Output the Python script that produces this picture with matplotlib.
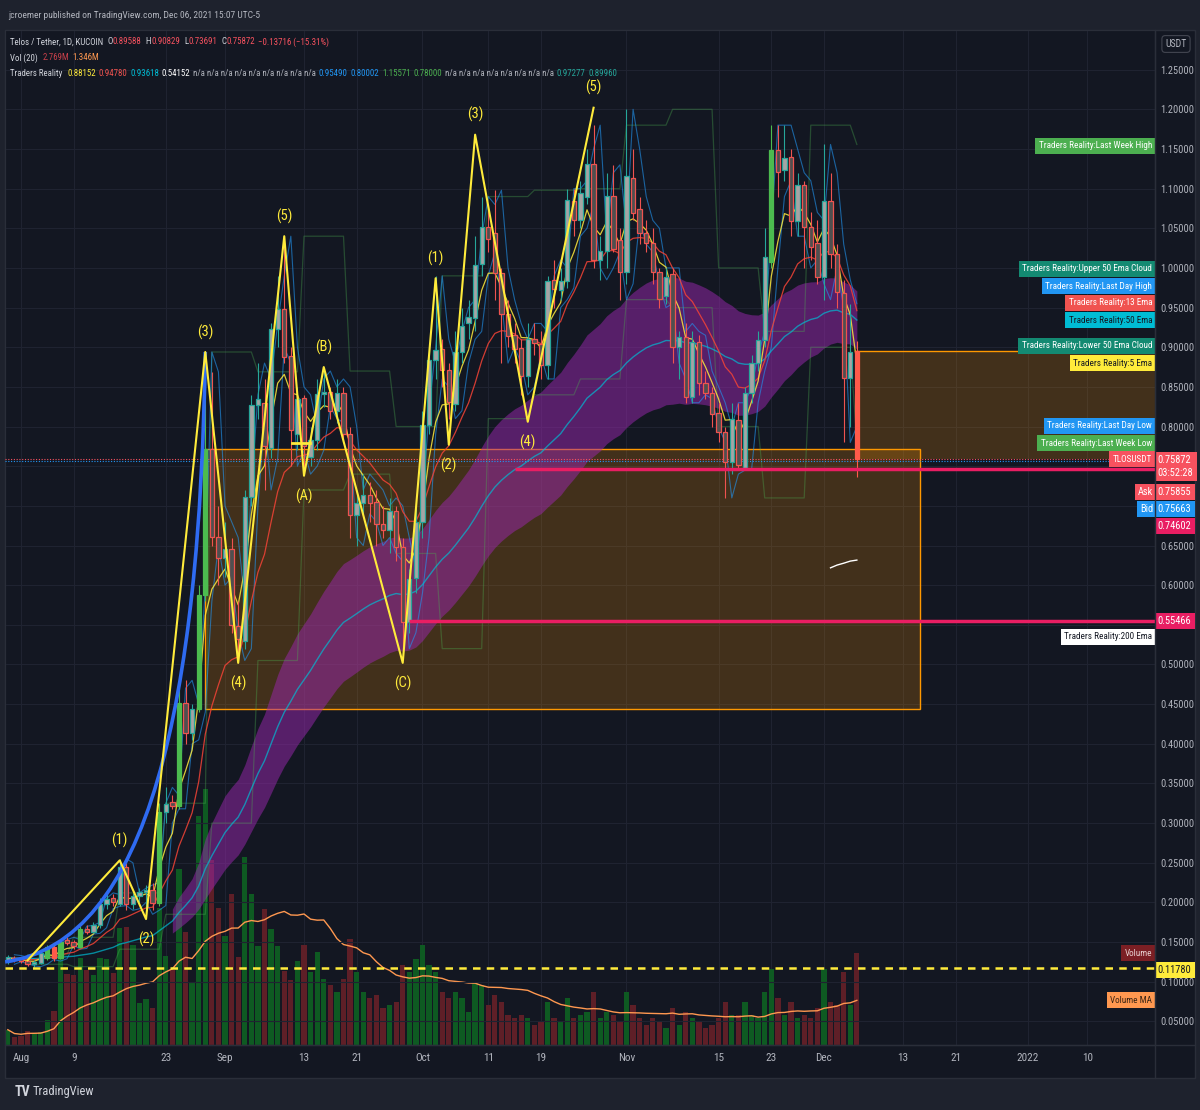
import numpy as np
import pandas as pd
import matplotlib
matplotlib.use("Agg")
import matplotlib.pyplot as plt
import matplotlib.transforms as mtransforms
from matplotlib.patches import Rectangle, PathPatch
from matplotlib.path import Path
from matplotlib.lines import Line2D
import logging
logging.getLogger("matplotlib.font_manager").setLevel(logging.ERROR)

FONT = ["Roboto Condensed", "Open Sans Condensed", "Liberation Sans Narrow",
        "Liberation Sans", "DejaVu Sans"]
plt.rcParams["font.family"] = FONT

# ---- daily TLOS/USDT (KuCoin), Jul 30 - Dec 06 2021
dates = pd.date_range("2021-07-30", "2021-12-06", freq="D")

opens = [0.128, 0.130,
         # Aug
         0.127, 0.126, 0.122, 0.124, 0.130, 0.144, 0.130, 0.152, 0.150, 0.144,
         0.167, 0.163, 0.171, 0.198, 0.205, 0.198, 0.245, 0.198, 0.208, 0.213,
         0.216, 0.199, 0.314, 0.326, 0.322, 0.451, 0.414, 0.444, 0.587, 0.772, 0.661,
         # Sep
         0.634, 0.645, 0.549, 0.529, 0.711, 0.827, 0.830, 0.773, 0.923, 0.948,
         0.889, 0.791, 0.836, 0.762, 0.783, 0.841, 0.843, 0.820, 0.842, 0.790,
         0.689, 0.703, 0.714, 0.705, 0.677, 0.670, 0.694, 0.648, 0.554, 0.609,
         # Oct
         0.680, 0.802, 0.884, 0.898, 0.871, 0.829, 0.894, 0.930, 0.937, 1.005,
         1.052, 1.044, 0.994, 0.942, 0.916, 0.899, 0.864, 0.910, 0.904, 0.878,
         0.985, 0.972, 0.984, 1.084, 1.060, 1.090, 1.131, 1.010, 1.021, 1.091, 1.035,
         # Nov
         0.995, 1.114, 1.074, 1.044, 1.031, 0.995, 0.965, 0.992, 0.900, 0.913,
         0.837, 0.907, 0.855, 0.842, 0.817, 0.793, 0.755, 0.808, 0.748, 0.842,
         0.880, 0.909, 1.008, 1.149, 1.124, 1.140, 1.059, 1.105, 1.051, 1.031,
         # Dec
         0.988, 1.084, 1.018, 0.968, 0.861, 0.89588]

highs = [0.134, 0.133,
         0.131, 0.129, 0.127, 0.138, 0.146, 0.148, 0.153, 0.156, 0.153, 0.170,
         0.171, 0.175, 0.205, 0.212, 0.210, 0.255, 0.250, 0.212, 0.218, 0.222,
         0.225, 0.325, 0.345, 0.335, 0.470, 0.480, 0.450, 0.600, 0.894, 0.869, 0.700,
         0.680, 0.660, 0.580, 0.720, 0.840, 0.880, 0.860, 0.930, 0.990, 1.040,
         0.900, 0.850, 0.840, 0.800, 0.860, 0.870, 0.850, 0.860, 0.850, 0.800,
         0.720, 0.740, 0.730, 0.720, 0.700, 0.710, 0.700, 0.660, 0.620, 0.700,
         0.820, 0.900, 0.990, 0.910, 0.880, 0.920, 0.950, 0.960, 1.040, 1.090,
         1.080, 1.098, 1.000, 0.960, 0.930, 0.910, 0.930, 0.930, 0.920, 0.990,
         1.010, 1.000, 1.100, 1.100, 1.110, 1.150, 1.180, 1.040, 1.120, 1.130, 1.050,
         1.200, 1.150, 1.090, 1.060, 1.050, 1.000, 1.000, 1.000, 0.920, 0.930,
         0.920, 0.915, 0.870, 0.850, 0.830, 0.800, 0.830, 0.830, 0.850, 0.890,
         0.920, 1.050, 1.180, 1.180, 1.180, 1.150, 1.120, 1.110, 1.070, 1.060,
         1.15571, 1.120, 1.030, 0.985, 0.9549, 0.90829]

lows = [0.122, 0.125,
        0.123, 0.120, 0.119, 0.122, 0.128, 0.126, 0.129, 0.146, 0.141, 0.142,
        0.160, 0.161, 0.168, 0.192, 0.195, 0.196, 0.190, 0.192, 0.200, 0.185,
        0.190, 0.196, 0.300, 0.318, 0.318, 0.400, 0.405, 0.440, 0.580, 0.650, 0.600,
        0.610, 0.540, 0.505, 0.520, 0.700, 0.810, 0.720, 0.760, 0.900, 0.880,
        0.750, 0.770, 0.740, 0.750, 0.770, 0.825, 0.810, 0.805, 0.780, 0.660,
        0.650, 0.690, 0.680, 0.650, 0.660, 0.640, 0.630, 0.520, 0.540, 0.590,
        0.660, 0.790, 0.860, 0.850, 0.810, 0.820, 0.880, 0.910, 0.920, 0.990,
        1.020, 0.960, 0.880, 0.900, 0.880, 0.840, 0.850, 0.890, 0.860, 0.860,
        0.950, 0.960, 0.975, 1.040, 1.050, 1.080, 1.000, 0.985, 1.000, 1.020, 0.960,
        0.980, 1.060, 1.030, 1.020, 0.980, 0.950, 0.955, 0.880, 0.860, 0.830,
        0.830, 0.840, 0.835, 0.800, 0.780, 0.710, 0.740, 0.745, 0.745, 0.830,
        0.870, 0.900, 1.000, 1.090, 1.110, 1.040, 1.040, 1.000, 1.010, 0.980,
        0.960, 1.000, 0.950, 0.780, 0.80002, 0.73691]

closes = [0.130, 0.127,
          0.126, 0.122, 0.125, 0.136, 0.144, 0.130, 0.150, 0.149, 0.145, 0.166,
          0.163, 0.171, 0.198, 0.204, 0.200, 0.245, 0.198, 0.208, 0.213, 0.216,
          0.199, 0.314, 0.324, 0.322, 0.451, 0.414, 0.444, 0.587, 0.772, 0.661, 0.634,
          0.645, 0.550, 0.532, 0.711, 0.827, 0.835, 0.776, 0.923, 0.948, 0.888,
          0.796, 0.835, 0.775, 0.783, 0.841, 0.843, 0.820, 0.842, 0.790, 0.689,
          0.703, 0.714, 0.703, 0.677, 0.670, 0.694, 0.648, 0.554, 0.608, 0.680,
          0.802, 0.884, 0.897, 0.871, 0.831, 0.894, 0.927, 0.938, 1.004, 1.051,
          1.036, 0.994, 0.942, 0.914, 0.898, 0.864, 0.911, 0.905, 0.878, 0.984,
          0.973, 0.984, 1.086, 1.060, 1.094, 1.131, 1.010, 1.021, 1.091, 1.024, 0.995,
          1.116, 1.069, 1.044, 1.031, 0.995, 0.961, 0.989, 0.900, 0.913, 0.837,
          0.907, 0.855, 0.842, 0.816, 0.793, 0.755, 0.810, 0.752, 0.842, 0.880,
          0.909, 1.014, 1.149, 1.121, 1.139, 1.059, 1.105, 1.051, 1.026, 0.988,
          1.084, 1.018, 0.970, 0.861, 0.894, 0.75872]

# volume in millions of TLOS
volumes = [0.46, 0.23,
           0.28, 0.43, 0.36, 0.39, 0.74, 1.03, 2.62, 2.14, 2.10, 2.62,
           2.26, 2.12, 2.62, 2.59, 2.17, 3.52, 3.54, 3.02, 1.26, 1.37,
           1.11, 4.11, 2.67, 2.27, 5.31, 3.40, 1.89, 6.90, 7.70, 5.57, 4.13,
           3.28, 4.55, 2.65, 5.65, 4.55, 2.97, 4.08, 3.50, 2.99, 2.24,
           1.97, 2.53, 3.00, 2.20, 2.80, 2.00, 1.80, 1.60, 2.00, 3.20,
           2.20, 1.60, 1.40, 1.50, 1.10, 1.20, 1.30, 2.40, 2.20, 2.60,
           3.00, 2.40, 2.20, 1.60, 1.40, 1.60, 1.40, 1.00, 1.90, 1.80,
           1.20, 1.50, 1.30, 0.90, 0.80, 0.90, 0.80, 0.60, 0.70, 1.30,
           0.80, 0.70, 1.40, 0.80, 0.90, 1.00, 1.60, 0.80, 1.00, 0.90, 0.70,
           1.60, 1.20, 0.80, 0.60, 0.80, 0.70, 0.50, 1.10, 0.60, 1.00,
           0.80, 0.70, 0.50, 0.60, 0.80, 1.30, 0.90, 0.90, 1.30, 0.90,
           0.80, 1.60, 2.30, 1.40, 0.90, 1.30, 0.80, 0.90, 0.80, 1.10,
           2.30, 1.30, 1.20, 2.20, 1.20, 2.769]

vector_up = ["2021-08-05", "2021-08-07", "2021-08-10", "2021-08-22", "2021-08-25",
             "2021-08-28", "2021-08-29", "2021-11-23"]
vector_down = ["2021-08-06", "2021-12-06"]

# Elliott wave drawing
wave_dates = ["2021-08-02", "2021-08-16", "2021-08-20", "2021-08-29", "2021-09-03",
              "2021-09-10", "2021-09-13", "2021-09-16", "2021-09-28", "2021-10-03",
              "2021-10-05", "2021-10-09", "2021-10-17", "2021-10-27"]
wave_prices = [0.127, 0.253, 0.179, 0.894, 0.502, 1.040, 0.738, 0.875, 0.502,
               0.987, 0.777, 1.168, 0.806, 1.202]
wave_labels = ["", "(1)", "(2)", "(3)", "(4)", "(5)", "(A)", "(B)", "(C)",
               "(1)", "(2)", "(3)", "(4)", "(5)"]

# other drawings
curve_dates = ["2021-07-29 14:00", "2021-08-20 14:00", "2021-08-28 05:00", "2021-08-29"]
curve_prices = [0.125, 0.150, 0.455, 0.894]
level_prices = [0.74602, 0.55466]
level_starts = ["2021-10-15", "2021-09-29"]
ask_price = 0.75855
bid_price = 0.75663
dashed_level = 0.11780
zone_end = "2021-12-15 14:00"
marker_dates = ["2021-09-11 06:00", "2021-09-13 22:00"]
marker_price = 0.779

tick_dates = ["2021-08-01", "2021-08-09", "2021-08-23", "2021-09-01", "2021-09-13",
              "2021-09-21", "2021-10-01", "2021-10-11", "2021-10-19", "2021-11-01",
              "2021-11-15", "2021-11-23", "2021-12-01", "2021-12-13", "2021-12-21",
              "2022-01-01", "2022-01-10"]
tick_labels = ["Aug", "9", "23", "Sep", "13", "21", "Oct", "11", "19", "Nov",
               "15", "23", "Dec", "13", "21", "2022", "10"]
price_ticks = np.arange(0.05, 1.2501, 0.05)
hidden_ticks = [0.55, 0.70, 0.75]   # covered by the price tags

# ---------------------------------------------------------------
BG = "#131722"
GRID = "#1f2331"
BORDER = "#2a2e39"
TXT = "#b2b5be"
RED = "#f7525f"

base = pd.Timestamp("2021-08-01")


def day(ts):
    return (pd.Timestamp(ts) - base) / pd.Timedelta(days=1)


t = np.array([day(d) for d in dates])
df = pd.DataFrame({"o": opens, "h": highs, "l": lows, "c": closes, "v": volumes},
                  index=dates)

ema5 = df.c.ewm(span=5, adjust=False).mean()
ema13 = df.c.ewm(span=13, adjust=False).mean()
ema50 = df.c.ewm(span=50, adjust=False).mean()
ema200 = df.c.ewm(span=200, adjust=False).mean()
cloud = df.c.rolling(100, min_periods=26).std() / 4
last_day_high = df.h.shift(1)
last_day_low = df.l.shift(1)
last_week_high = df.h.resample("W-SUN").max().shift(1).reindex(df.index, method="bfill")
last_week_low = df.l.resample("W-SUN").min().shift(1).reindex(df.index, method="bfill")
vol_ma = df.v.rolling(20, min_periods=1).mean()

W, H = 1200, 1110
fig = plt.figure(figsize=(12, 11.1), dpi=100, facecolor="#1e222d")


def fx(px):
    return px / W


def fy(py):
    return 1 - py / H


fig.add_artist(Rectangle((fx(5), fy(1078)), 1190 / W, 1048 / H, transform=fig.transFigure,
                         facecolor=BG, edgecolor=BORDER, lw=1, zorder=-10))

axv = fig.add_axes([fx(5), fy(1045), 1150 / W, 1015 / H])
ax = axv.twinx()
axv.set_facecolor(BG)

xmin, xmax = -2.43, 172.3
axv.set_xlim(xmin, xmax)
ax.set_ylim(0.0202, 1.300)
axv.set_ylim(0, 30.55)

for a in (ax, axv):
    for s in a.spines.values():
        s.set_color(BORDER)
axv.yaxis.set_visible(False)

# grid / ticks
axv.set_xticks([day(d) for d in tick_dates])
axv.set_xticklabels(tick_labels)
axv.tick_params(axis="x", length=0, pad=6, colors=TXT, labelsize=8)
axv.grid(axis="x", color=GRID, lw=0.8)
ax.set_yticks(price_ticks)
ax.set_yticklabels(["" if any(abs(v - h) < 1e-6 for h in hidden_ticks) else f"{v:.5f}"
                    for v in price_ticks])
ax.tick_params(axis="y", length=0, pad=4, colors=TXT, labelsize=7.5)
ax.grid(axis="y", color=GRID, lw=0.8)
ax.set_axisbelow(True)

# volume
up = (df.c >= df.o).values
vol_col = np.where(up, "#0e5a22", "#5e1f27")
axv.bar(t, df.v, width=0.8, color=vol_col, zorder=2)
axv.plot(t, vol_ma, color="#ff9850", lw=1, zorder=3)

# zones from vector candles
i28 = df.index.get_loc(pd.Timestamp("2021-08-28"))
i29 = df.index.get_loc(pd.Timestamp("2021-08-29"))
z_lo, z_hi = df.o.iloc[i28], df.c.iloc[i29]
ax.add_patch(Rectangle((t[i29], z_lo), day(zone_end) - t[i29], z_hi - z_lo,
                       facecolor="#ff9800", alpha=0.2, edgecolor="none", zorder=1))
ax.add_patch(Rectangle((t[i29], z_lo), day(zone_end) - t[i29], z_hi - z_lo,
                       facecolor="none", edgecolor="#ff9800", lw=1, zorder=1.2))
z2_lo, z2_hi = df.c.iloc[-1], df.o.iloc[-1]
ax.add_patch(Rectangle((t[-1] - 0.3, z2_lo), xmax - t[-1] + 1, z2_hi - z2_lo,
                       facecolor="#ff9800", alpha=0.2, edgecolor="none", zorder=1))
ax.plot([t[-1] - 0.3, xmax], [z2_hi, z2_hi], color="#ff9800", lw=1, zorder=1.2)

# ema cloud and lines
ax.fill_between(t, ema50 - cloud, ema50 + cloud, color="#9c27b0", alpha=0.5, lw=0, zorder=1.5)
ax.plot(t, last_week_high, color="#4caf50", alpha=0.35, lw=0.9, zorder=2)
ax.plot(t, last_week_low, color="#4caf50", alpha=0.35, lw=0.9, zorder=2)
ax.plot(t, last_day_high, color="#2196f3", alpha=0.6, lw=0.8, zorder=2)
ax.plot(t, last_day_low, color="#2196f3", alpha=0.6, lw=0.8, zorder=2)
ax.plot(t, ema50, color="#00bcd4", alpha=0.7, lw=1, zorder=2.2)
ax.plot(t, ema13, color="#f44336", alpha=0.85, lw=0.9, zorder=2.5)
ax.plot(t, ema5, color="#ffeb3b", alpha=0.85, lw=0.9, zorder=2.6)
ax.plot(t[-5:], ema200.values[-5:], color="white", lw=1, zorder=2.6)

# levels
for lv, st in zip(level_prices, level_starts):
    ax.plot([day(st), xmax], [lv, lv], color="#e91e63", lw=2.5, zorder=4.5,
            solid_capstyle="butt")
ax.axhline(closes[-1], color=RED, lw=0.8, ls=(0, (1, 1.5)), zorder=4)
ax.axhline(bid_price, color="#2196f3", lw=0.8, ls=(0, (1, 1.5)), zorder=4)
ax.axhline(dashed_level, color="#ffeb3b", lw=1.8, ls=(0, (3, 2.5)), zorder=4.5)
ax.plot([day(d) for d in marker_dates], [marker_price] * 2, color="#ffeb3b", lw=2, zorder=5)

# candles
fill = np.where(up, "#a5a5a5", "#4f4f4f").astype("<U7")
edge = np.where(up, "#26a69a", "#ef5350").astype("<U7")
for d in vector_up:
    i = df.index.get_loc(pd.Timestamp(d))
    fill[i] = edge[i] = "#4cbb4f"
for d in vector_down:
    i = df.index.get_loc(pd.Timestamp(d))
    fill[i] = edge[i] = "#ff5a4a"
body_lo = np.minimum(df.o, df.c)
body_h = np.maximum(np.abs(df.c - df.o), 0.003)
ax.vlines(t, df.l, df.h, colors=edge, lw=0.8, zorder=3.5)
ax.bar(t, body_h, bottom=body_lo, width=0.66, color=fill, edgecolor=edge, lw=0.9, zorder=4)

# parabolic curve drawing
verts = list(zip([day(d) for d in curve_dates], curve_prices))
curve = Path(verts, [Path.MOVETO, Path.CURVE4, Path.CURVE4, Path.CURVE4])
ax.add_patch(PathPatch(curve, facecolor="none", edgecolor="#2f6bf2", lw=2.6, zorder=5))

# elliott waves
wx = [day(d) for d in wave_dates]
ax.plot(wx, wave_prices, color="#ffeb3b", lw=1.5, zorder=5.5)
for i, lab in enumerate(wave_labels):
    if not lab:
        continue
    peak = wave_prices[i] > wave_prices[i - 1]
    ax.annotate(lab, (wx[i], wave_prices[i]), xytext=(0, 14.5 if peak else -14.5),
                textcoords="offset points", ha="center", va="center",
                color="#ffeb3b", fontsize=10.5, zorder=6)

# labels inside pane (right edge)
blend = mtransforms.blended_transform_factory(ax.transAxes, ax.transData)
tr_labels = [("Traders Reality:Last Week High", 1.154, "#4caf50", "white"),
             ("Traders Reality:Upper 50 Ema Cloud", 0.9987, "#138a72", "white"),
             ("Traders Reality:Last Day High", 0.977, "#2196f3", "white"),
             ("Traders Reality:13 Ema", 0.956, "#f05350", "white"),
             ("Traders Reality:50 Ema", 0.934, "#00bcd4", "#131722"),
             ("Traders Reality:Lower 50 Ema Cloud", 0.902, "#138a72", "white"),
             ("Traders Reality:5 Ema", 0.880, "#ffeb3b", "#131722"),
             ("Traders Reality:Last Day Low", 0.801, "#2196f3", "white"),
             ("Traders Reality:Last Week Low", 0.779, "#4caf50", "white"),
             ("TLOSUSDT", 0.7587, RED, "white"),
             ("Traders Reality:200 Ema", 0.535, "white", "#131722")]
for txt, y, bg, fg in tr_labels:
    ax.text(0.9975, y, txt, transform=blend, ha="right", va="center", fontsize=6.6,
            color=fg, zorder=8, bbox=dict(boxstyle="square,pad=0.38", fc=bg, ec="none"))

# price scale tags
axis_tags = [(f"{closes[-1]:.5f}\n03:52:28", 0.7587 - 0.009, RED, "white"),
             (f"{ask_price:.5f}", 0.7175, RED, "white"),
             (f"{bid_price:.5f}", 0.696, "#2196f3", "white"),
             (f"{level_prices[0]:.5f}", 0.6746, "#e91e63", "white"),
             (f"{level_prices[1]:.5f}", level_prices[1], "#e91e63", "white"),
             (f"{dashed_level:.5f}", dashed_level - 0.003, "#ffeb3b", "#131722")]
for txt, y, bg, fg in axis_tags:
    ax.text(1.0025, y, txt, transform=blend, ha="left", va="center", fontsize=7.5,
            color=fg, zorder=9, clip_on=False, linespacing=1.45,
            bbox=dict(boxstyle="square,pad=0.3", fc=bg, ec="none"))
ax.text(0.9985, 0.7175, "Ask", transform=blend, ha="right", va="center", fontsize=7.5,
        color="white", zorder=9, bbox=dict(boxstyle="square,pad=0.3", fc=RED, ec="none"))
ax.text(0.9985, 0.696, "Bid", transform=blend, ha="right", va="center", fontsize=7.5,
        color="white", zorder=9, bbox=dict(boxstyle="square,pad=0.3", fc="#2196f3", ec="none"))

vblend = mtransforms.blended_transform_factory(axv.transAxes, axv.transData)
axv.text(0.9975, volumes[-1], "Volume", transform=vblend, ha="right", va="center",
         fontsize=6.6, color="#e8d0d0", zorder=8,
         bbox=dict(boxstyle="square,pad=0.38", fc="#7b1f24", ec="none"))
axv.text(0.9975, 1.346, "Volume MA", transform=vblend, ha="right", va="center",
         fontsize=6.6, color="#3a2414", zorder=8,
         bbox=dict(boxstyle="square,pad=0.38", fc="#ff9850", ec="none"))

# frame lines, currency box
fig.add_artist(Line2D([fx(1155)] * 2, [fy(30), fy(1078)], transform=fig.transFigure,
                      color=BORDER, lw=1))
fig.add_artist(Line2D([fx(5), fx(1195)], [fy(1045)] * 2, transform=fig.transFigure,
                      color=BORDER, lw=1))
fig.text(fx(1176), fy(44), "USDT", ha="center", va="center", fontsize=7, color=TXT,
         bbox=dict(boxstyle="round,pad=0.35", fc=BG, ec="#434651", lw=0.8))

# header / legend rows
fig.text(fx(8), fy(15), "jcroemer published on TradingView.com, Dec 06, 2021 15:07 UTC-5",
         fontsize=6.8, color=TXT, va="center")


def text_row(pieces, x_px, y_px, size=6.4):
    s0, c0 = pieces[0][:2]
    prev = fig.text(fx(x_px), fy(y_px), s0, color=c0, fontsize=size, va="center")
    for s, c, gap in pieces[1:]:
        prev = ax.annotate(s, xy=(1, 0.5), xycoords=prev, xytext=(gap, 0),
                           textcoords="offset points", color=c, fontsize=size,
                           va="center", ha="left", annotation_clip=False, zorder=9)


chg = closes[-1] - opens[-1]
row1 = [("Telos / Tether, 1D, KUCOIN", "#d1d4dc"),
        ("O", "#d1d4dc", 3), (f"{opens[-1]:.5f}", RED, 0),
        ("H", "#d1d4dc", 3), (f"{highs[-1]:.5f}", RED, 0),
        ("L", "#d1d4dc", 3), (f"{lows[-1]:.5f}", RED, 0),
        ("C", "#d1d4dc", 3), (f"{closes[-1]:.5f}", RED, 0),
        (f"\u2212{abs(chg):.5f} (\u2212{abs(chg) / opens[-1] * 100:.2f}%)", RED, 2.5)]
row2 = [("Vol (20)", "#d1d4dc"), ("2.769M", "#c9404a", 3.5), ("1.346M", "#ff9850", 2.5)]
row3 = [("Traders Reality", "#d1d4dc"), ("0.88152", "#ffeb3b", 3.5), ("0.94780", "#f05350", 2),
        ("0.93618", "#00bcd4", 2), ("0.54152", "white", 2),
        (" ".join(["n/a"] * 9), TXT, 2),
        ("0.95490", "#2196f3", 2), ("0.80002", "#2196f3", 2),
        ("1.15571", "#4caf50", 2), ("0.78000", "#4caf50", 2),
        (" ".join(["n/a"] * 8), TXT, 2),
        ("0.97277", "#26a69a", 2), ("0.89960", "#26a69a", 2)]
text_row(row1, 10, 42)
text_row(row2, 10, 58)
text_row(row3, 10, 74)

# footer
fig.text(fx(15), fy(1092), "TV", fontsize=10, fontweight="bold", color="#d1d4dc", va="center")
fig.text(fx(33), fy(1092), "TradingView", fontsize=9, color="#d1d4dc", va="center")

fig.savefig("out.png", dpi=100, facecolor=fig.get_facecolor())
